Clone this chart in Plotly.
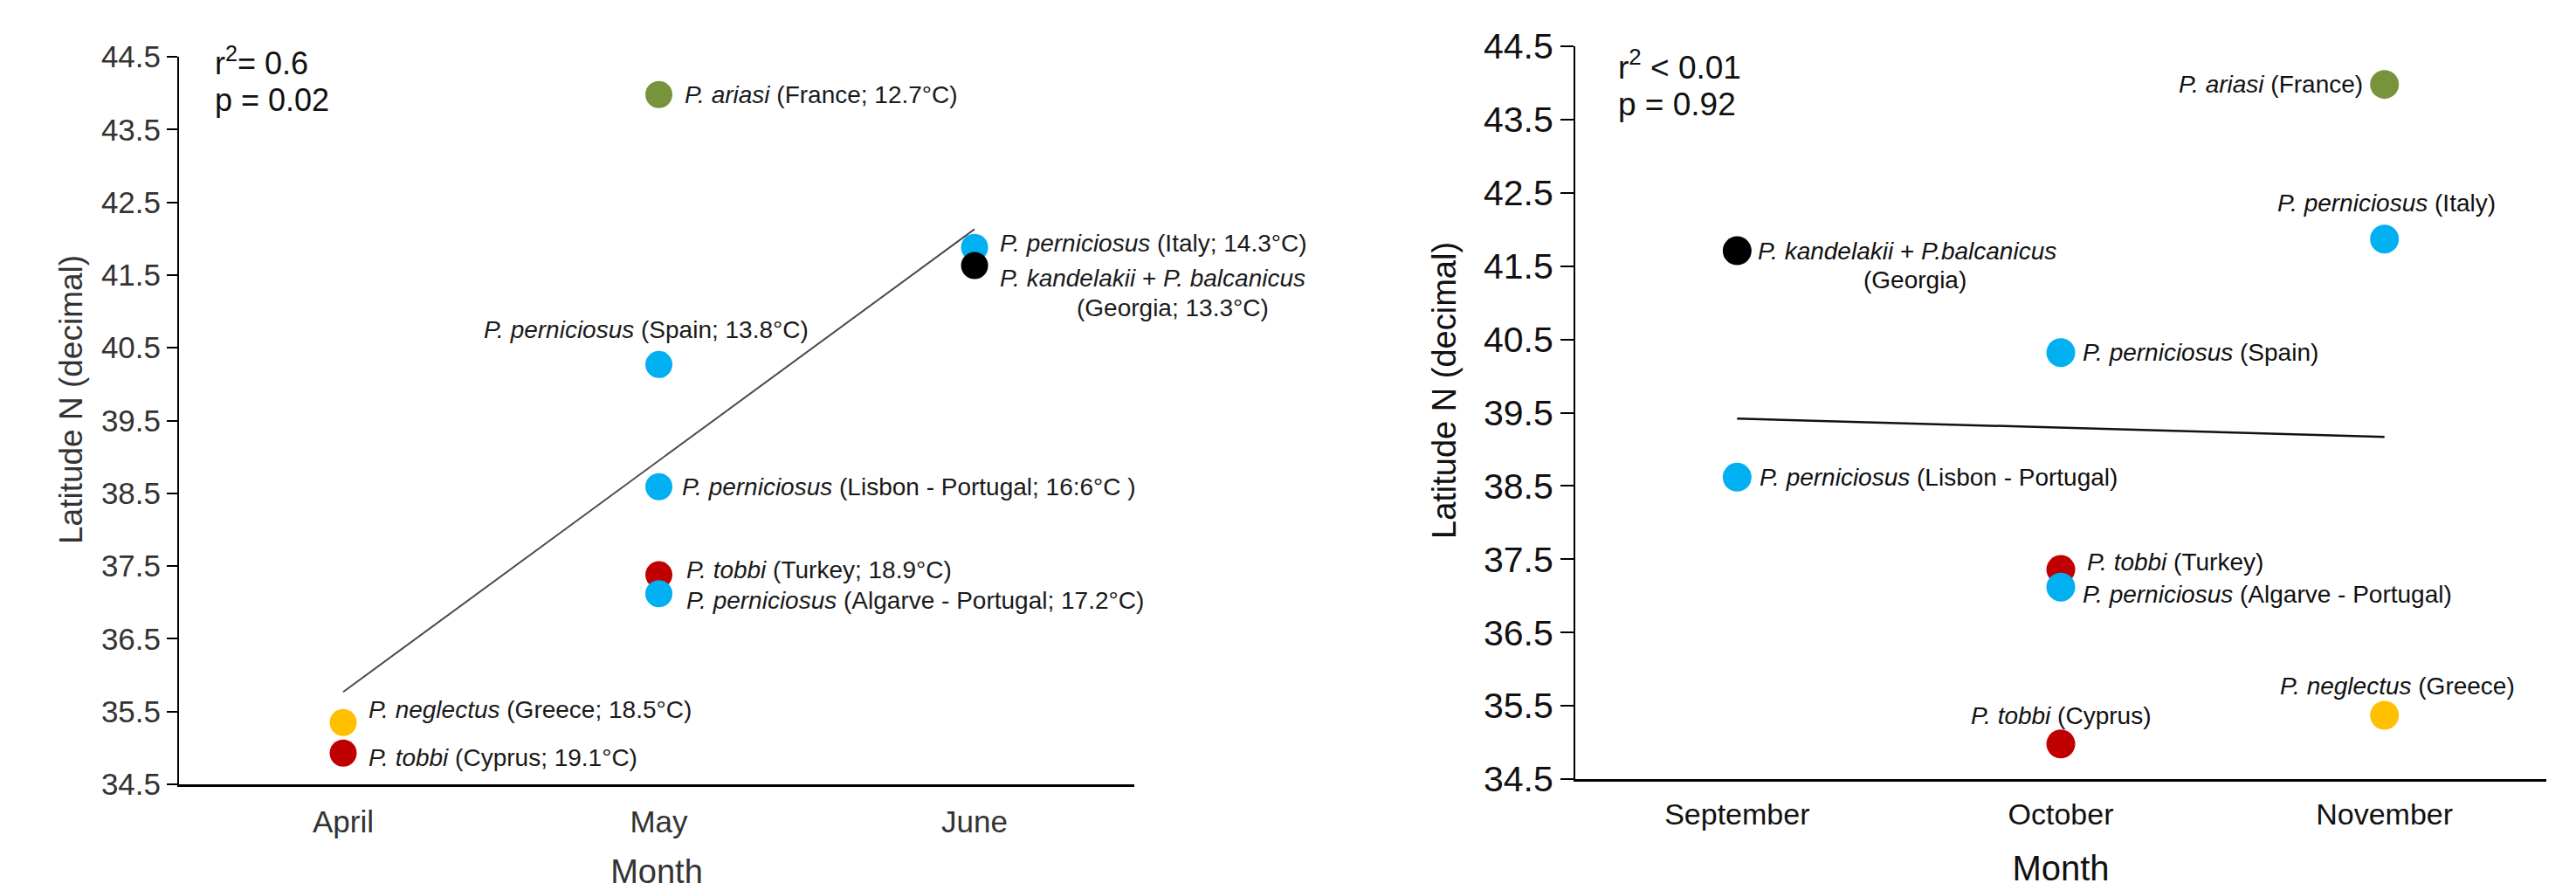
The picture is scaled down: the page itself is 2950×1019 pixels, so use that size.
import plotly.graph_objects as go

# ---------------- data ----------------
# Spring sampling
spring_months = ["April", "May", "June"]
spring_species = ["P. perniciosus", "P. kandelakii + P. balcanicus", "P. ariasi",
                  "P. perniciosus", "P. perniciosus", "P. tobbi",
                  "P. perniciosus", "P. neglectus", "P. tobbi"]
spring_place = ["(Italy; 14.3°C)", "(Georgia; 13.3°C)", "(France; 12.7°C)",
                "(Spain; 13.8°C)", "(Lisbon - Portugal; 16:6°C )", "(Turkey; 18.9°C)",
                "(Algarve - Portugal; 17.2°C)", "(Greece; 18.5°C)", "(Cyprus; 19.1°C)"]
spring_month = ["June", "June", "May", "May", "May", "May", "May", "April", "April"]
spring_lat = [41.88, 41.63, 43.98, 40.27, 38.59, 37.38, 37.12, 35.35, 34.93]
spring_fit = [35.77, 42.13]          # trend line at April and June
spring_stats = ["r<sup>2</sup>= 0.6", "p = 0.02"]

# Autumn sampling
autumn_months = ["September", "October", "November"]
autumn_species = ["P. kandelakii + P.balcanicus", "P. perniciosus", "P. perniciosus",
                  "P. tobbi", "P. perniciosus", "P. tobbi",
                  "P. ariasi", "P. perniciosus", "P. neglectus"]
autumn_place = ["(Georgia)", "(Lisbon - Portugal)", "(Spain)",
                "(Turkey)", "(Algarve - Portugal)", "(Cyprus)",
                "(France)", "(Italy)", "(Greece)"]
autumn_month = ["September", "September", "October", "October", "October", "October",
                "November", "November", "November"]
autumn_lat = [41.71, 38.62, 40.32, 37.36, 37.12, 34.98, 43.98, 41.87, 35.37]
autumn_fit = [39.42, 39.17]          # trend line at September and November
autumn_stats = ["r<sup>2</sup> &lt; 0.01", "p = 0.92"]

lat_ticks = [34.5, 35.5, 36.5, 37.5, 38.5, 39.5, 40.5, 41.5, 42.5, 43.5, 44.5]

# ---------------- styling ----------------
W, H = 2950, 1019
FONT = "Arial, Liberation Sans, sans-serif"
SPECIES_COLOR = {
    "P. perniciosus": "#00B0F0",
    "P. ariasi": "#77933C",
    "P. tobbi": "#C00000",
    "P. neglectus": "#FFC000",
}

# label placement: (xanchor, dx px, dy px, second line (dx, dy) or None)
spring_label_pos = [
    ("left", 27, 5, None),
    ("left", 27, -14, (115, -48)),
    ("left", 27, 0, None),
    ("center", -15, 40, None),
    ("left", 24, 0, None),
    ("left", 29, 6, None),
    ("left", 29, -8, None),
    ("left", 27, 15, None),
    ("left", 27, -5, None),
]
autumn_label_pos = [
    ("left", 22, 0, (143, -33)),
    ("left", 24, 0, None),
    ("left", 23, 0, None),
    ("left", 28, 9, None),
    ("left", 23, -8, None),
    ("center", 0, 32, None),
    ("right", -23, 0, None),
    ("center", 2, 41, None),
    ("center", 15, 34, None),
]


def px(x):
    return x / W


def py(y):
    return 1 - y / H


def species_html(name):
    return " + ".join(f"<i>{s}</i>" for s in name.split(" + "))


def color_of(name):
    return SPECIES_COLOR.get(name, "#000000")


fig = go.Figure()


def add_panel(xa, ya, months, species, place, month, lat, fit, label_pos,
              msize, label_color, line_color, line_width):
    idx = {m: i for i, m in enumerate(months)}
    xs = [idx[m] for m in month]
    # trend line
    fig.add_trace(go.Scatter(
        x=[0, len(months) - 1], y=fit, mode="lines",
        line=dict(color=line_color, width=line_width),
        xaxis=xa, yaxis=ya, showlegend=False, hoverinfo="skip"))
    # sampling sites
    for x, y, sp in zip(xs, lat, species):
        fig.add_trace(go.Scatter(
            x=[x], y=[y], mode="markers",
            marker=dict(size=msize, color=color_of(sp), line=dict(width=0)),
            xaxis=xa, yaxis=ya, showlegend=False))
    # site labels
    for x, y, sp, pl, pos in zip(xs, lat, species, place, label_pos):
        anchor, dx, dy, wrap = pos
        text = species_html(sp) if wrap else f"{species_html(sp)} {pl}"
        fig.add_annotation(
            x=x, y=y, xref=xa, yref=ya, text=text, showarrow=False,
            xanchor=anchor, yanchor="middle", xshift=dx, yshift=dy,
            font=dict(family=FONT, size=28, color=label_color))
        if wrap:
            fig.add_annotation(
                x=x, y=y, xref=xa, yref=ya, text=pl, showarrow=False,
                xanchor="left", yanchor="middle", xshift=wrap[0], yshift=wrap[1],
                font=dict(family=FONT, size=28, color=label_color))


add_panel("x", "y", spring_months, spring_species, spring_place, spring_month,
          spring_lat, spring_fit, spring_label_pos, 31, "#1a1a1a", "#4a4a4a", 2)
add_panel("x2", "y2", autumn_months, autumn_species, autumn_place, autumn_month,
          autumn_lat, autumn_fit, autumn_label_pos, 33, "#111111", "#111111", 2.5)

lat_text = [f"{v:.1f}" for v in lat_ticks]


def xaxis(domain, months, rng, size, color, standoff, anchor,
          title_size, title_standoff):
    return dict(domain=domain, range=rng, anchor=anchor,
                tickvals=list(range(len(months))), ticktext=months,
                showline=True, linecolor="#000000", linewidth=3,
                ticks="", ticklabelstandoff=standoff,
                showgrid=False, zeroline=False,
                tickfont=dict(family=FONT, size=size, color=color),
                title=dict(text="Month", standoff=title_standoff,
                           font=dict(family=FONT, size=title_size, color=color)))


def yaxis(domain, size, color, ticklen, anchor):
    return dict(domain=domain, range=[34.5, 44.5], anchor=anchor,
                tickvals=lat_ticks, ticktext=lat_text,
                showline=True, linecolor="#000000", linewidth=2,
                ticks="outside", ticklen=ticklen, tickwidth=2, tickcolor="#000000",
                showgrid=False, zeroline=False,
                tickfont=dict(family=FONT, size=size, color=color))


fig.update_layout(
    width=W, height=H, autosize=False,
    margin=dict(l=0, r=0, t=0, b=0, autoexpand=False),
    paper_bgcolor="white", plot_bgcolor="white",
    showlegend=False,
    xaxis=xaxis([px(205), px(1299)], spring_months, [-0.52, 2.506], 35, "#333333",
                10, "y", 38, 32),
    yaxis=yaxis([py(898), py(65)], 35, "#333333", 12, "x"),
    xaxis2=xaxis([px(1804), px(2916)], autumn_months, [-0.5, 2.5], 34, "#111111",
                 8, "y2", 40, 31),
    yaxis2=yaxis([py(892), py(53)], 41, "#111111", 15, "x2"),
)

# statistics
for i, s in enumerate(spring_stats):
    fig.add_annotation(x=px(244), y=py(70 + 45 * i), xref="paper", yref="paper",
                       text=s, showarrow=False, xanchor="left", yanchor="middle",
                       font=dict(family=FONT, size=36, color="#111111"))
for i, s in enumerate(autumn_stats):
    fig.add_annotation(x=px(1851), y=py(74 + 45 * i), xref="paper", yref="paper",
                       text=s, showarrow=False, xanchor="left", yanchor="middle",
                       font=dict(family=FONT, size=37, color="#111111"))

# y-axis titles
for x, y, size, col in [(82, 458, 37, "#333333"), (1654, 447, 38, "#111111")]:
    fig.add_annotation(x=px(x), y=py(y), xref="paper", yref="paper",
                       text="Latitude N (decimal)", showarrow=False, textangle=-90,
                       xanchor="center", yanchor="middle",
                       font=dict(family=FONT, size=size, color=col))

fig.write_html("out.html")
